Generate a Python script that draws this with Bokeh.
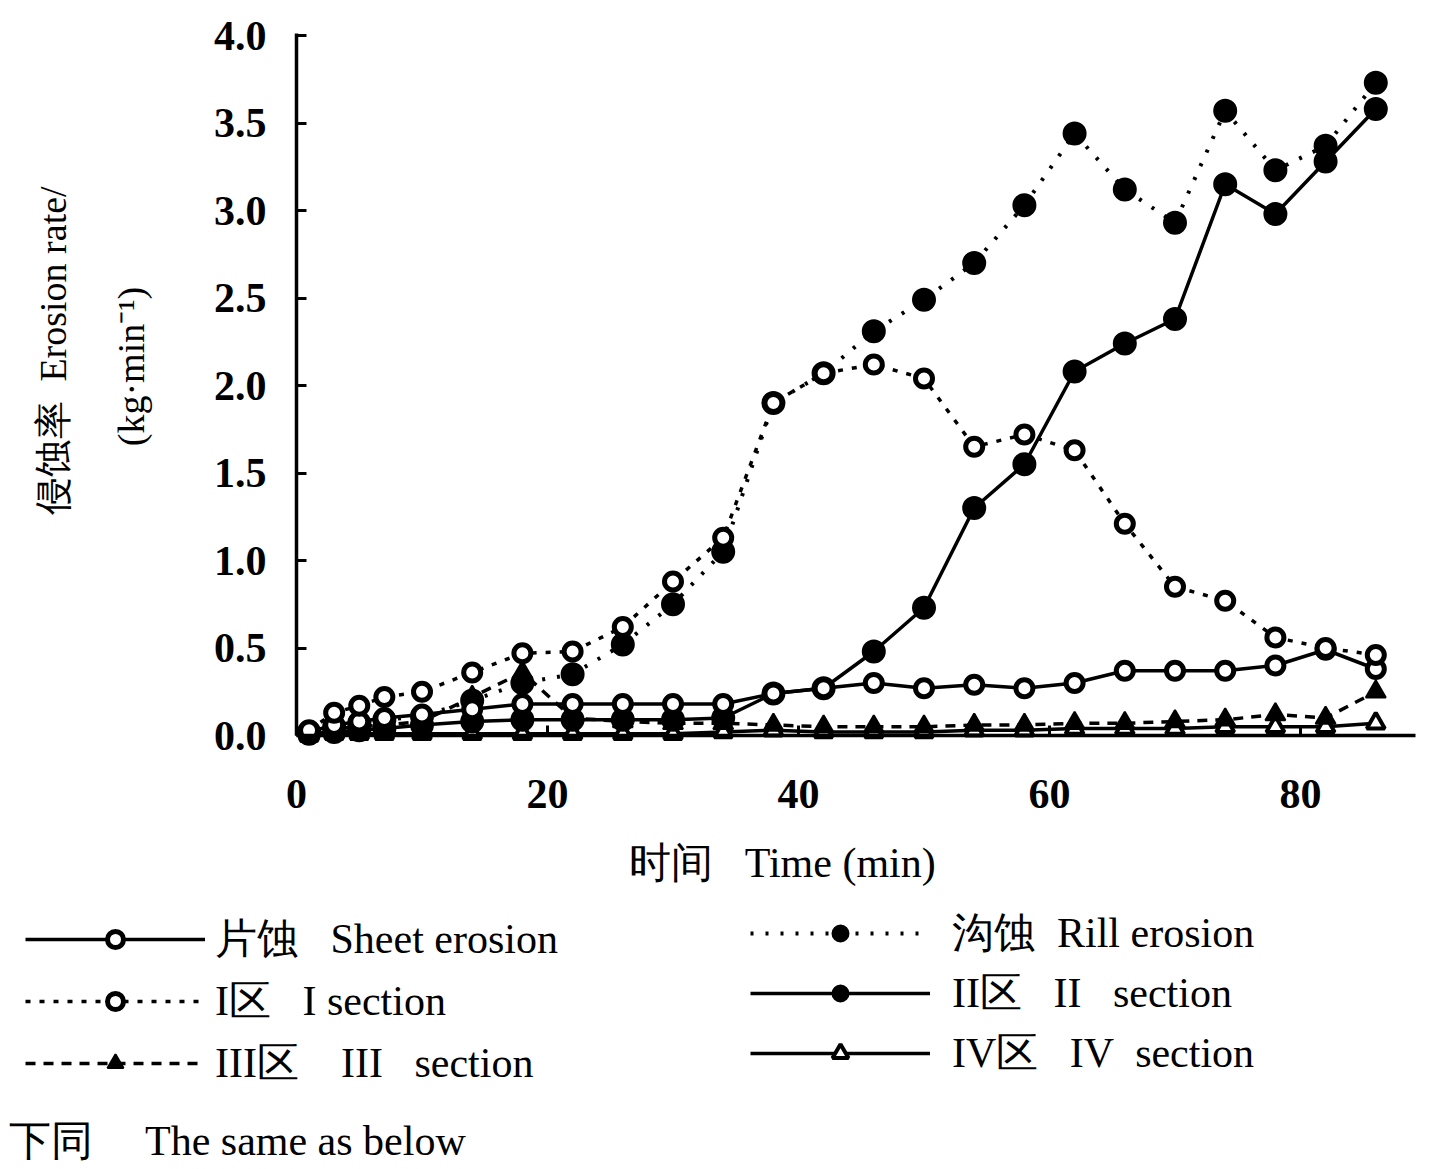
import math
from bokeh.plotting import figure
from bokeh.models import Range1d, FixedTicker, Legend, LegendItem, Label, CustomJSTickFormatter
from bokeh.embed import file_html
from bokeh.resources import INLINE

# ---- data ----
time_min = [1, 3, 5, 7, 10, 14, 18, 22, 26, 30, 34, 38, 42, 46, 50, 54, 58, 62, 66, 70, 74, 78, 82, 86]
sheet = [0.02, 0.06, 0.08, 0.10, 0.12, 0.15, 0.18, 0.18, 0.18, 0.18, 0.18, 0.24, 0.27, 0.30, 0.27, 0.29,
         0.27, 0.30, 0.37, 0.37, 0.37, 0.40, 0.49, 0.38]
sec1 = [0.03, 0.13, 0.17, 0.22, 0.25, 0.36, 0.47, 0.48, 0.62, 0.88, 1.13, 1.90, 2.07, 2.12, 2.04, 1.65,
        1.72, 1.63, 1.21, 0.85, 0.77, 0.56, 0.50, 0.46]
rill = [0.02, 0.05, 0.07, 0.09, 0.11, 0.20, 0.30, 0.35, 0.52, 0.75, 1.05, 1.90, 2.07, 2.31, 2.49, 2.70,
        3.03, 3.44, 3.12, 2.93, 3.57, 3.23, 3.37, 3.73]
sec2 = [0.01, 0.02, 0.03, 0.04, 0.06, 0.08, 0.09, 0.09, 0.09, 0.09, 0.10, 0.24, 0.27, 0.48, 0.73, 1.30,
        1.55, 2.08, 2.24, 2.38, 3.15, 2.98, 3.28, 3.58]
sec3 = [0.02, 0.04, 0.05, 0.06, 0.08, 0.22, 0.36, 0.10, 0.08, 0.07, 0.07, 0.06, 0.05, 0.05, 0.05, 0.06,
        0.06, 0.07, 0.07, 0.08, 0.09, 0.12, 0.10, 0.25]
sec4 = [0.00, 0.01, 0.01, 0.01, 0.01, 0.01, 0.01, 0.01, 0.01, 0.01, 0.02, 0.03, 0.02, 0.02, 0.02, 0.03,
        0.03, 0.04, 0.04, 0.04, 0.05, 0.05, 0.05, 0.07]

x_ticks = [0, 20, 40, 60, 80]
y_ticks = [0.0, 0.5, 1.0, 1.5, 2.0, 2.5, 3.0, 3.5, 4.0]

NB = "\u00a0"
label_sheet = "片蚀" + NB * 3 + "Sheet erosion"
label_s1 = "I区" + NB * 3 + "I section"
label_s3 = "III区" + NB * 4 + "III" + NB * 3 + "section"
label_rill = "沟蚀" + NB * 2 + "Rill erosion"
label_s2 = "II区" + NB * 3 + "II" + NB * 3 + "section"
label_s4 = "IV区" + NB * 3 + "IV" + NB * 2 + "section"
note_text = "下同" + NB * 5 + "The same as below"
xlabel = "时间" + NB * 3 + "Time (min)"
ylabel1 = "侵蚀率" + NB * 2 + "Erosion rate/"
ylabel2 = "(kg·min⁻¹)"

FONT = "Liberation Serif"
BLACK = "#000000"

# ---- geometry: the frame covers the whole canvas ----
W, H = 1426, 1168
XPX = 12.55   # px per minute
YPX = 175.0   # px per unit
X0PX, Y0PX = 296, 735   # screenshot px of the data origin


def dx(px):
    return (px - X0PX) / XPX


def dy(py):
    return (Y0PX - py) / YPX


p = figure(width=W, height=H, output_backend="svg", toolbar_location=None,
           x_range=Range1d(dx(0), dx(W)), y_range=Range1d(dy(H), dy(0)),
           min_border=0, min_border_left=0, min_border_right=0, min_border_top=0, min_border_bottom=0)
p.outline_line_color = None
p.grid.visible = False
p.background_fill_color = "white"
p.border_fill_color = "white"

for ax in (p.xaxis[0], p.yaxis[0]):
    ax.axis_line_width = 3.5
    ax.axis_line_color = BLACK
    ax.major_tick_line_width = 3
    ax.major_tick_line_color = BLACK
    ax.minor_tick_line_color = None
    ax.major_tick_out = 0
    ax.major_tick_in = 10
    ax.major_label_text_font = FONT
    ax.major_label_text_font_size = "42px"
    ax.major_label_text_font_style = "bold"
    ax.major_label_text_color = BLACK

p.xaxis.fixed_location = 0
p.yaxis.fixed_location = 0
p.xaxis.bounds = (0, dx(1415))
p.yaxis.bounds = (0, dy(33))
p.xaxis.ticker = FixedTicker(ticks=x_ticks)
p.yaxis.ticker = FixedTicker(ticks=y_ticks)
p.yaxis.formatter = CustomJSTickFormatter(code="return tick.toFixed(1);")
p.xaxis.major_label_standoff = 44
p.yaxis.major_label_standoff = 30

LW = 3.5
r_sheet_l = p.line(time_min, sheet, line_color=BLACK, line_width=LW)
r_s1_l = p.line(time_min, sec1, line_color=BLACK, line_width=LW, line_dash="5 9")
r_rill_l = p.line(time_min, rill, line_color=BLACK, line_width=4, line_dash="3 12")
r_s2_l = p.line(time_min, sec2, line_color=BLACK, line_width=LW)
r_s3_l = p.line(time_min, sec3, line_color=BLACK, line_width=LW, line_dash="10 8")
r_s4_l = p.line(time_min, sec4, line_color=BLACK, line_width=LW)

r_s4_m = p.scatter(time_min, sec4, marker="triangle", size=18, line_color=BLACK, line_width=4, fill_color="white")
r_s3_m = p.scatter(time_min, sec3, marker="triangle", size=20, line_color=BLACK, line_width=2, fill_color=BLACK)
r_s2_m = p.scatter(time_min, sec2, marker="circle", size=22, line_color=BLACK, line_width=2, fill_color=BLACK)
r_rill_m = p.scatter(time_min, rill, marker="circle", size=22, line_color=BLACK, line_width=2, fill_color=BLACK)
r_sheet_m = p.scatter(time_min, sheet, marker="circle", size=17, line_color=BLACK, line_width=5, fill_color="white")
r_s1_m = p.scatter(time_min, sec1, marker="circle", size=17, line_color=BLACK, line_width=5, fill_color="white")


def make_legend(items, loc, spacing, standoff):
    return Legend(items=items, location=loc, orientation="vertical",
                  glyph_width=180, glyph_height=40, label_height=58, spacing=spacing,
                  padding=0, margin=0, label_standoff=standoff,
                  label_text_font=FONT, label_text_font_size="42px", label_text_color=BLACK,
                  border_line_color=None, background_fill_alpha=0)


# legend locations: screen px from the frame's bottom-left corner
leg_left = make_legend([
    LegendItem(label=label_sheet, renderers=[r_sheet_l, r_sheet_m]),
    LegendItem(label=label_s1, renderers=[r_s1_l, r_s1_m]),
    LegendItem(label=label_s3, renderers=[r_s3_l, r_s3_m]),
], (25, H - 1092), 4, 10)
leg_right = make_legend([
    LegendItem(label=label_rill, renderers=[r_rill_l, r_rill_m]),
    LegendItem(label=label_s2, renderers=[r_s2_l, r_s2_m]),
    LegendItem(label=label_s4, renderers=[r_s4_l, r_s4_m]),
], (750, H - 1082), 2, 22)
p.add_layout(leg_left)
p.add_layout(leg_right)

p.add_layout(Label(x=dx(782), y=dy(862), text=xlabel, text_font=FONT, text_font_size="42px",
                   text_align="center", text_baseline="middle", text_color=BLACK))
p.add_layout(Label(x=dx(52), y=dy(350), text=ylabel1, text_font=FONT, text_font_size="38px",
                   text_align="center", text_baseline="middle", angle=math.pi / 2, text_color=BLACK))
p.add_layout(Label(x=dx(130), y=dy(366), text=ylabel2, text_font=FONT, text_font_size="38px",
                   text_align="center", text_baseline="middle", angle=math.pi / 2, text_color=BLACK))
p.add_layout(Label(x=dx(8), y=dy(1140), text=note_text, text_font=FONT, text_font_size="42px",
                   text_align="left", text_baseline="middle", text_color=BLACK))

open("out.html", "w").write(file_html(p, INLINE))
